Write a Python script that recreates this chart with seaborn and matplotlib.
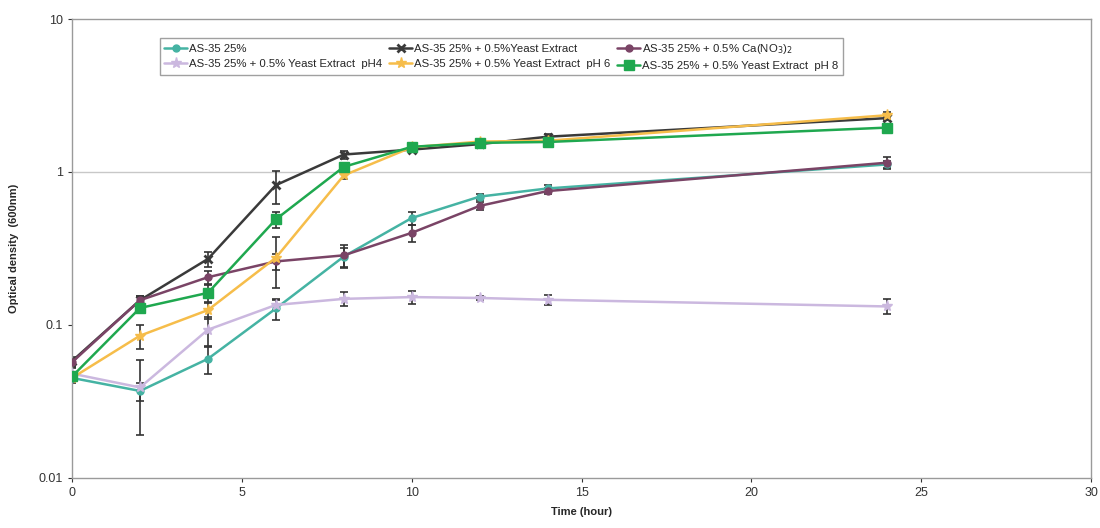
import numpy as np
import pandas as pd
import matplotlib
matplotlib.use('Agg')
import matplotlib.pyplot as plt
import seaborn as sns

# sampling times (hour)
time = [0, 2, 4, 6, 8, 10, 12, 14, 24]

# optical density at 600nm
od_as35 = [0.045, 0.037, 0.060, 0.128, 0.28, 0.50, 0.69, 0.78, 1.12]
od_yeast = [0.058, 0.145, 0.27, 0.82, 1.30, 1.40, 1.52, 1.70, 2.25]
od_cano3 = [0.057, 0.145, 0.205, 0.26, 0.285, 0.40, 0.60, 0.75, 1.15]
od_ph4 = [0.048, 0.039, 0.093, 0.135, 0.148, 0.152, 0.150, 0.146, 0.132]
od_ph6 = [0.045, 0.085, 0.125, 0.275, 0.95, 1.45, 1.58, 1.60, 2.35]
od_ph8 = [0.046, 0.129, 0.162, 0.49, 1.08, 1.46, 1.55, 1.57, 1.95]

# error bars (only where visible)
err_as35 = [0, 0.005, 0.012, 0.02, 0.04, 0.05, 0.03, 0.04, 0.06]
err_yeast = [0.004, 0.01, 0.03, 0.20, 0.08, 0.05, 0.04, 0.06, 0.08]
err_cano3 = [0.004, 0.01, 0.02, 0.03, 0.05, 0.05, 0.04, 0.03, 0.10]
err_ph4 = [0.004, 0.02, 0.02, 0.01, 0.015, 0.015, 0.005, 0.012, 0.015]
err_ph6 = [0.003, 0.015, 0.015, 0.10, 0.05, 0.05, 0.04, 0.05, 0.10]
err_ph8 = [0.003, 0.01, 0.02, 0.06, 0.06, 0.05, 0.04, 0.04, 0.06]

labels = ['AS-35 25%',
          'AS-35 25% + 0.5%Yeast Extract',
          'AS-35 25% + 0.5% Ca(NO$_3$)$_2$',
          'AS-35 25% + 0.5% Yeast Extract  pH4',
          'AS-35 25% + 0.5% Yeast Extract  pH 6',
          'AS-35 25% + 0.5% Yeast Extract  pH 8']
values = [od_as35, od_yeast, od_cano3, od_ph4, od_ph6, od_ph8]
errors = [err_as35, err_yeast, err_cano3, err_ph4, err_ph6, err_ph8]
colors = ['#45b3a3', '#3a3a3a', '#7a4466', '#cbb8df', '#f6bd4a', '#1fa84f']
markers = ['o', 'x', 'o', '*', '*', 's']
msizes = [5, 6, 5, 8, 8, 7]

sns.set_style('white')
plt.rcParams['font.family'] = ['Liberation Sans', 'DejaVu Sans']

fig = plt.figure(figsize=(11, 5.28), dpi=100)
ax = fig.add_axes([0.0655, 0.095, 0.9265, 0.869])

for lab, v, e, c, m, ms in zip(labels, values, errors, colors, markers, msizes):
    df = pd.DataFrame({'time': time, 'od': v})
    ax.errorbar(time, v, yerr=e, fmt='none', ecolor='#333333', elinewidth=1.2,
                capsize=3, capthick=1.2, zorder=2)
    sns.lineplot(data=df, x='time', y='od', color=c, marker=m, markersize=ms,
                 markeredgecolor=c, markeredgewidth=2 if m == 'x' else 1,
                 linewidth=1.8, label=lab, ax=ax, zorder=3)

ax.set_yscale('log')
ax.set_xlim(0, 30)
ax.set_ylim(0.01, 10)
ax.set_xticks([0, 5, 10, 15, 20, 25, 30])
ax.set_yticks([0.01, 0.1, 1, 10])
ax.set_yticklabels(['0.01', '0.1', '1', '10'])
ax.yaxis.set_minor_locator(matplotlib.ticker.NullLocator())
ax.axhline(1, color='#c8c8c8', linewidth=1, zorder=1)
ax.tick_params(axis='both', labelsize=9, colors='#333333', length=3,
               direction='out', bottom=True, left=True)
for s in ax.spines.values():
    s.set_color('#9a9a9a')
    s.set_linewidth(1)

ax.set_xlabel('Time (hour)', fontsize=8, fontweight='bold', labelpad=6)
ax.set_ylabel('Optical density  (600nm)', fontsize=8, fontweight='bold', labelpad=14)

h, l = ax.get_legend_handles_labels()
order = [0, 3, 1, 4, 2, 5]
ax.legend([h[i] for i in order], [l[i] for i in order], ncol=3, loc='upper left',
          bbox_to_anchor=(0.081, 0.972), fontsize=8.2, frameon=True,
          edgecolor='#888888', fancybox=False, handlelength=2.0,
          handletextpad=0.2, columnspacing=0.6, borderpad=0.35, labelspacing=0.45)

fig.savefig('out.png', dpi=100)
